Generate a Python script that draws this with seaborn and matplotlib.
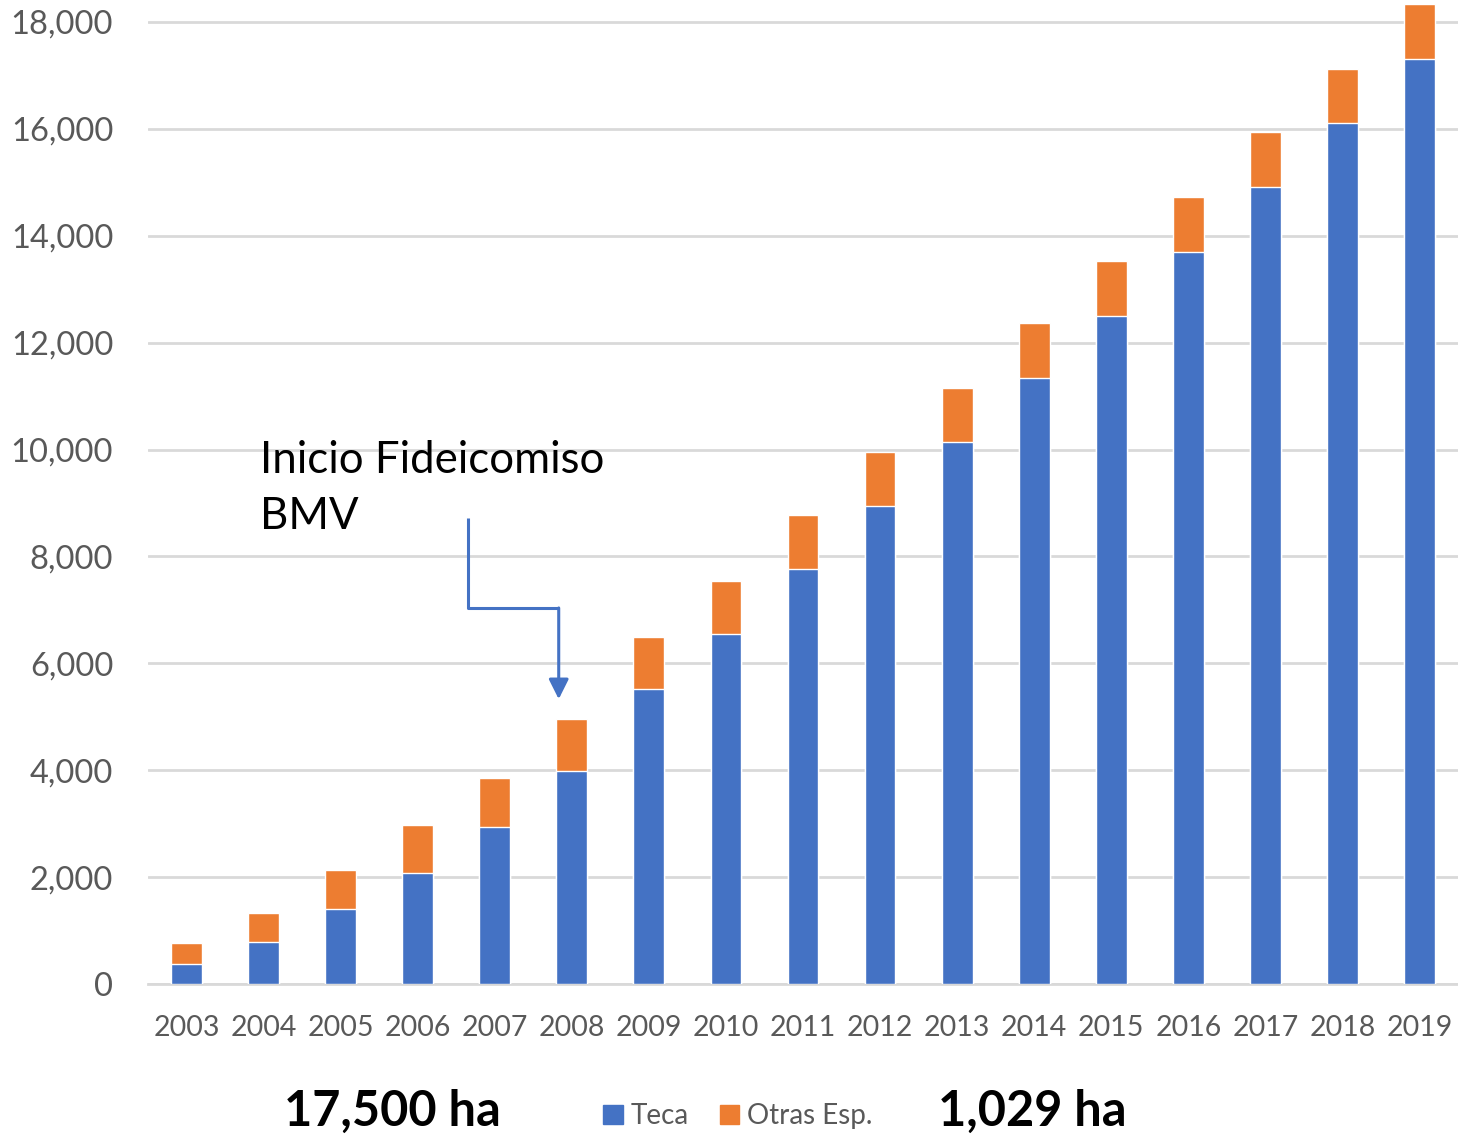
import numpy as np
import pandas as pd
import matplotlib
matplotlib.use('Agg')
import matplotlib.pyplot as plt
import seaborn as sns
from matplotlib.patches import Patch

years = [str(y) for y in range(2003, 2020)]
teca = [375, 790, 1400, 2080, 2940, 3990, 5520, 6550, 7770, 8950,
        10140, 11340, 12500, 13700, 14910, 16110, 17310]
otras = [395, 540, 730, 895, 915, 970, 975, 990, 1010, 1005,
         1010, 1030, 1030, 1030, 1030, 1010, 1029]
total = [t + o for t, o in zip(teca, otras)]

blue = '#4472C4'
orange = '#ED7D31'
grid_c = '#D9D9D9'
txt_c = '#595959'

sns.set_style('white')
plt.rcParams['font.family'] = ['Lato', 'DejaVu Sans']

df = pd.DataFrame({'year': years, 'teca': teca, 'total': total})

fig = plt.figure(figsize=(14.58, 11.36), dpi=100)
ax = fig.add_axes([148 / 1458, (1136 - 984) / 1136, 1 - 148 / 1458, 984 / 1136])

sns.barplot(data=df, x='year', y='total', color=orange, width=0.4,
            saturation=1, ax=ax, zorder=3)
sns.barplot(data=df, x='year', y='teca', color=blue, width=0.4,
            saturation=1, ax=ax, zorder=3)

ax.set_ylim(0, 18412)
ax.set_xlim(-0.5, len(years) - 0.5)
ax.set_yticks(range(0, 18001, 2000))
ax.set_yticklabels([f'{v:,}' for v in range(0, 18001, 2000)])
ax.yaxis.grid(True, color=grid_c, linewidth=2, zorder=0)
ax.set_axisbelow(True)
for s in ['top', 'right', 'left']:
    ax.spines[s].set_visible(False)
ax.spines['bottom'].set_color(grid_c)
ax.spines['bottom'].set_linewidth(2)
ax.tick_params(axis='y', length=0, pad=25, labelsize=23.5, labelcolor=txt_c)
ax.tick_params(axis='x', length=0, pad=22, labelsize=20.5, labelcolor=txt_c)
ax.set_xlabel('')
ax.set_ylabel('')

# annotation
ax.text(0.95, 10180, 'Inicio Fideicomiso\nBMV', fontsize=31.5, color='black',
        ha='left', va='top', linespacing=1.45)
ax.plot([3.65, 3.65, 4.83], [8720, 7036, 7036], color=blue, lw=2.2,
        solid_capstyle='butt', zorder=4)
ax.annotate('', xy=(4.83, 5330), xytext=(4.83, 7036),
            arrowprops=dict(arrowstyle='-|>', color=blue, lw=2.2,
                            mutation_scale=30, shrinkA=0, shrinkB=0),
            zorder=4)

# bottom texts and legend
fig.text(392 / 1458, 1 - 1111 / 1136, '17,500 ha', fontsize=35, color='black',
         fontweight='bold', ha='center', va='center')
fig.text(1032 / 1458, 1 - 1111 / 1136, '1,029 ha', fontsize=35, color='black',
         fontweight='bold', ha='center', va='center')
handles = [Patch(color=blue, label='Teca'), Patch(color=orange, label='Otras Esp.')]
fig.legend(handles=handles, loc='center', bbox_to_anchor=(738 / 1458, 1 - 1116 / 1136),
           ncol=2, frameon=False, fontsize=20, handlelength=0.7, handleheight=0.7,
           handletextpad=0.3, columnspacing=1.1, labelcolor=txt_c)

fig.savefig('out.png', dpi=100)
